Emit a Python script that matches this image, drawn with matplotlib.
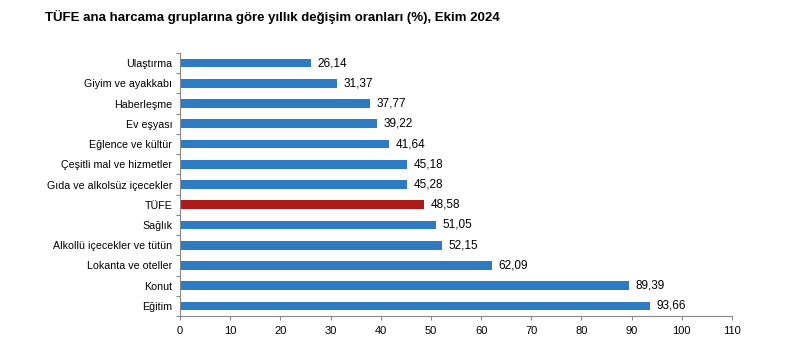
import matplotlib
matplotlib.use("Agg")
import matplotlib.pyplot as plt
import numpy as np

plt.rcParams['font.family'] = ['Liberation Sans', 'DejaVu Sans']

categories = ["Ulaştırma", "Giyim ve ayakkabı", "Haberleşme", "Ev eşyası",
              "Eğlence ve kültür", "Çeşitli mal ve hizmetler",
              "Gıda ve alkolsüz içecekler", "TÜFE", "Sağlık",
              "Alkollü içecekler ve tütün", "Lokanta ve oteller", "Konut", "Eğitim"]
values = [26.14, 31.37, 37.77, 39.22, 41.64, 45.18, 45.28, 48.58, 51.05,
          52.15, 62.09, 89.39, 93.66]
value_labels = ["26,14", "31,37", "37,77", "39,22", "41,64", "45,18", "45,28",
                "48,58", "51,05", "52,15", "62,09", "89,39", "93,66"]
x_ticks = list(range(0, 111, 10))

blue = "#2D7BC3"
red = "#AD1A1A"
colors = [red if c == "TÜFE" else blue for c in categories]

fig = plt.figure(figsize=(8.06, 3.4), dpi=100)
ax = fig.add_axes([180/806, 24/340, (732-180)/806, (316-53)/340])

y = np.arange(len(categories))
ax.barh(y, values, height=0.43, color=colors)
ax.set_ylim(len(categories) - 0.5, -0.5)
ax.set_xlim(0, 110)
ax.set_xticks(x_ticks)
ax.set_xticklabels([str(t) for t in x_ticks], fontsize=8)
ax.set_yticks(y)
ax.set_yticklabels(categories, fontsize=7.7)
ax.set_yticks(np.arange(-0.5, len(categories) + 0.5, 1), minor=True)
ax.tick_params(axis='y', which='major', length=0, pad=5.5)
ax.tick_params(axis='y', which='minor', length=3, color="#888888", width=0.8)
ax.tick_params(axis='x', length=3, color="#888888", width=0.8, pad=4)

for s in ['top', 'right']:
    ax.spines[s].set_visible(False)
for s in ['left', 'bottom']:
    ax.spines[s].set_color("#888888")
    ax.spines[s].set_linewidth(0.8)

for yi, v, lab in zip(y, values, value_labels):
    ax.text(v + 1.3, yi, lab, va='center', ha='left', fontsize=8.5, color="#000000")

fig.text(45/806, 1 - 17/340, "TÜFE ana harcama gruplarına göre yıllık değişim oranları (%), Ekim 2024",
         fontsize=9.55, fontweight='bold', ha='left', va='center')

fig.savefig("out.png", dpi=100)
